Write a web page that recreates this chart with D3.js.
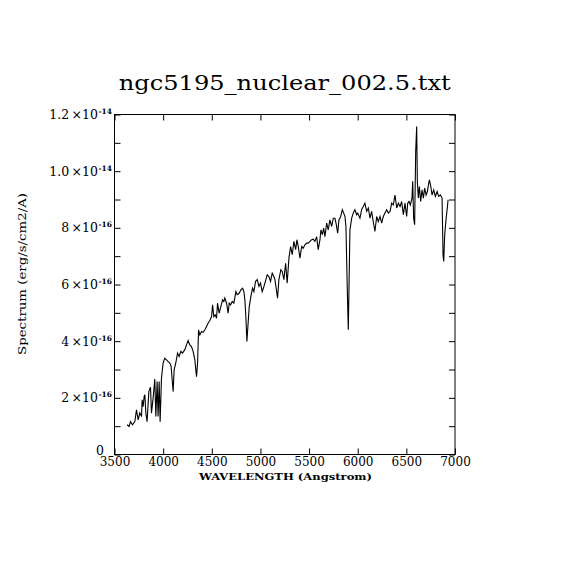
<!DOCTYPE html>
<html>
<head>
<meta charset="utf-8">
<script src="https://cdn.jsdelivr.net/npm/d3@7"></script>
<style>
  body { margin: 0; background: #fff; }
  text { font-family: "DejaVu Serif", "Liberation Serif", serif; fill: #000; }
</style>
</head>
<body>
<svg></svg>
<script>
// Chart values
const wavelength = [
  3630, 3650, 3664, 3685, 3709, 3726, 3743, 3760, 3778, 3784, 3794, 3805, 3812, 3822, 3835,
  3853, 3870, 3880, 3897, 3914, 3925, 3938, 3948, 3959, 3969, 3983, 4000, 4017, 4035, 4052,
  4069, 4082, 4097, 4103, 4113, 4130, 4148, 4164, 4182, 4199, 4223, 4240, 4257, 4274, 4291,
  4308, 4326, 4343, 4354, 4364, 4377, 4395, 4411, 4429, 4446, 4463, 4480, 4498, 4508, 4521,
  4535, 4549, 4559, 4576, 4593, 4611, 4624, 4634, 4652, 4668, 4679, 4693, 4710, 4727, 4748,
  4761, 4782, 4799, 4817, 4830, 4840, 4850, 4861, 4871, 4885, 4902, 4919, 4933, 4950, 4967,
  4985, 5001, 5018, 5036, 5056, 5070, 5087, 5104, 5121, 5138, 5149, 5176, 5190, 5210, 5224,
  5241, 5259, 5275, 5293, 5310, 5327, 5344, 5362, 5375, 5389, 5406, 5424, 5440, 5457, 5475,
  5492, 5509, 5526, 5543, 5560, 5578, 5594, 5612, 5622, 5636, 5650, 5663, 5681, 5697, 5714,
  5732, 5749, 5766, 5780, 5794, 5807, 5825, 5842, 5856, 5869, 5879, 5893, 5903, 5910, 5920,
  5938, 5954, 5971, 5989, 6000, 6023, 6040, 6057, 6074, 6092, 6109, 6126, 6143, 6160, 6177,
  6195, 6211, 6229, 6246, 6263, 6280, 6298, 6315, 6332, 6349, 6366, 6383, 6401, 6418, 6435,
  6452, 6469, 6486, 6503, 6514, 6527, 6541, 6558, 6565, 6575, 6585, 6596, 6606, 6613, 6623,
  6634, 6647, 6661, 6675, 6688, 6703, 6716, 6730, 6737, 6751, 6764, 6781, 6798, 6816, 6832,
  6850, 6867, 6877, 6884, 6894, 6909, 6922, 6929
];

// flux in units of 1e-14 erg/s/cm2/A
const flux = [
  0.105, 0.099, 0.116, 0.105, 0.116, 0.158, 0.122, 0.147, 0.134, 0.193, 0.169, 0.205, 0.211, 0.147, 0.116,
  0.222, 0.238, 0.146, 0.199, 0.266, 0.134, 0.258, 0.134, 0.258, 0.116, 0.270, 0.323, 0.340, 0.334, 0.328,
  0.323, 0.311, 0.246, 0.222, 0.299, 0.323, 0.358, 0.346, 0.364, 0.358, 0.370, 0.387, 0.402, 0.387, 0.381,
  0.364, 0.334, 0.275, 0.323, 0.440, 0.422, 0.434, 0.431, 0.440, 0.452, 0.464, 0.473, 0.487, 0.528, 0.487,
  0.493, 0.481, 0.534, 0.499, 0.522, 0.546, 0.540, 0.552, 0.534, 0.499, 0.534, 0.528, 0.540, 0.534, 0.575,
  0.564, 0.569, 0.581, 0.587, 0.575, 0.546, 0.487, 0.399, 0.452, 0.522, 0.558, 0.587, 0.575, 0.611, 0.617,
  0.593, 0.605, 0.575, 0.593, 0.617, 0.634, 0.628, 0.611, 0.640, 0.628, 0.617, 0.552, 0.617, 0.652, 0.646,
  0.617, 0.675, 0.605, 0.693, 0.734, 0.705, 0.752, 0.723, 0.758, 0.734, 0.693, 0.734, 0.728, 0.740, 0.746,
  0.746, 0.752, 0.758, 0.760, 0.752, 0.769, 0.723, 0.758, 0.793, 0.776, 0.799, 0.769, 0.817, 0.793, 0.828,
  0.805, 0.834, 0.834, 0.811, 0.781, 0.828, 0.840, 0.864, 0.852, 0.840, 0.805, 0.581, 0.440, 0.581, 0.793,
  0.834, 0.852, 0.864, 0.846, 0.852, 0.834, 0.864, 0.875, 0.887, 0.858, 0.870, 0.834, 0.858, 0.822, 0.787,
  0.840, 0.822, 0.840, 0.817, 0.840, 0.852, 0.864, 0.852, 0.858, 0.887, 0.881, 0.916, 0.870, 0.887, 0.875,
  0.893, 0.846, 0.887, 0.840, 0.887, 0.893, 0.881, 0.905, 0.964, 0.834, 0.811, 1.070, 1.158, 0.964, 0.905,
  0.946, 0.893, 0.934, 0.905, 0.940, 0.916, 0.928, 0.958, 0.969, 0.946, 0.916, 0.934, 0.911, 0.928, 0.911,
  0.916, 0.905, 0.705, 0.681, 0.775, 0.834, 0.875, 0.899
];

// Tick values and labels
const xTicks = [3500, 4000, 4500, 5000, 5500, 6000, 6500, 7000];
const yMinorTicks = [0, 0.1e-14, 0.2e-14, 0.3e-14, 0.4e-14, 0.5e-14, 0.6e-14, 0.7e-14, 0.8e-14, 0.9e-14, 1.0e-14, 1.1e-14, 1.2e-14];
const yLabelValues = [0, 0.2e-14, 0.4e-14, 0.6e-14, 0.8e-14, 1.0e-14, 1.2e-14];
const yLabelMantissa = ["0", "2", "4", "6", "8", "1.0", "1.2"];
const yLabelExponent = ["", "-16", "-16", "-16", "-16", "-14", "-14"];

const titleText = "ngc5195_nuclear_002.5.txt";
const xTitle = "WAVELENGTH (Angstrom)";
const yTitle = "Spectrum (erg/s/cm2/A)";

// Svg dimensions
const width = 570;
const height = 570;
const svg = d3.select("svg").attr("width", width).attr("height", height);

// Plot box
const box = { left: 114.5, right: 455, top: 114.5, bottom: 454.5 };
const tick = 6;

const xScale = d3.scaleLinear().domain([3500, 7000]).range([box.left, box.right]);
const yScale = d3.scaleLinear().domain([0, 1.2e-14]).range([box.bottom, box.top]);

const points = wavelength.map((w, i) => ({ w, f: flux[i] * 1e-14 }));

// Spectrum
const line = d3.line().x((d) => xScale(d.w)).y((d) => yScale(d.f));
svg.append("path")
  .datum(points)
  .attr("d", line)
  .attr("fill", "none")
  .attr("stroke", "#000")
  .attr("stroke-width", 1.1);

// Axes with inward ticks
const xAxisB = d3.axisBottom(xScale).tickValues(xTicks).tickSizeInner(-tick).tickSizeOuter(0)
  .tickPadding(3).tickFormat(d3.format("d"));
const xAxisT = d3.axisTop(xScale).tickValues(xTicks).tickSizeInner(-tick).tickSizeOuter(0).tickFormat("");
const yAxisL = d3.axisLeft(yScale).tickValues(yMinorTicks).tickSizeInner(-tick).tickSizeOuter(0).tickFormat("");
const yAxisR = d3.axisRight(yScale).tickValues(yMinorTicks).tickSizeInner(-tick).tickSizeOuter(0).tickFormat("");

const xAxisBG = svg.append("g").attr("transform", `translate(0,${box.bottom})`).call(xAxisB);
svg.append("g").attr("transform", `translate(0,${box.top})`).call(xAxisT);
svg.append("g").attr("transform", `translate(${box.left},0)`).call(yAxisL);
svg.append("g").attr("transform", `translate(${box.right},0)`).call(yAxisR);

svg.selectAll(".domain").remove();
svg.selectAll(".tick line").attr("stroke", "#000");
xAxisBG.selectAll(".tick text")
  .attr("font-family", "DejaVu Serif")
  .attr("font-size", 12)
  .attr("fill", "#000");

// Frame
svg.append("rect")
  .attr("x", box.left).attr("y", box.top)
  .attr("width", box.right - box.left).attr("height", box.bottom - box.top)
  .attr("fill", "none").attr("stroke", "#000").attr("stroke-width", 1);

// Y labels: mantissa ends at x=98, exponent follows as superscript
const yLab = svg.append("g");
yLab.selectAll("text.mant")
  .data(yLabelValues)
  .enter()
  .append("text")
  .attr("class", "mant")
  .attr("x", (d, i) => (yLabelExponent[i] ? 98 : 104))
  .attr("y", (d, i) => yScale(d) + (yLabelExponent[i] ? 4.5 : 0))
  .attr("text-anchor", "end")
  .attr("font-size", 12.5)
  .text((d, i) => yLabelExponent[i] ? yLabelMantissa[i] + "\u2009\u00d710" : yLabelMantissa[i]);

yLab.selectAll("text.exp")
  .data(yLabelValues)
  .enter()
  .append("text")
  .attr("class", "exp")
  .attr("x", 98.5)
  .attr("y", (d) => yScale(d) - 0.5)
  .attr("font-size", 7.5)
  .attr("font-weight", "bold")
  .text((d, i) => yLabelExponent[i]);

// Title
svg.append("text")
  .attr("x", (box.left + box.right) / 2)
  .attr("y", 90)
  .attr("text-anchor", "middle")
  .attr("font-size", 21)
  .attr("textLength", 332)
  .attr("lengthAdjust", "spacingAndGlyphs")
  .text(titleText);

// Axis titles
svg.append("text")
  .attr("x", 285.5)
  .attr("y", 480)
  .attr("text-anchor", "middle")
  .attr("font-size", 10)
  .attr("font-weight", "bold")
  .attr("textLength", 173)
  .attr("lengthAdjust", "spacingAndGlyphs")
  .text(xTitle);

svg.append("text")
  .attr("transform", "translate(25.5,274) rotate(-90)")
  .attr("text-anchor", "middle")
  .attr("font-size", 11.5)
  .attr("textLength", 162)
  .attr("lengthAdjust", "spacingAndGlyphs")
  .text(yTitle);
</script>
</body>
</html>
